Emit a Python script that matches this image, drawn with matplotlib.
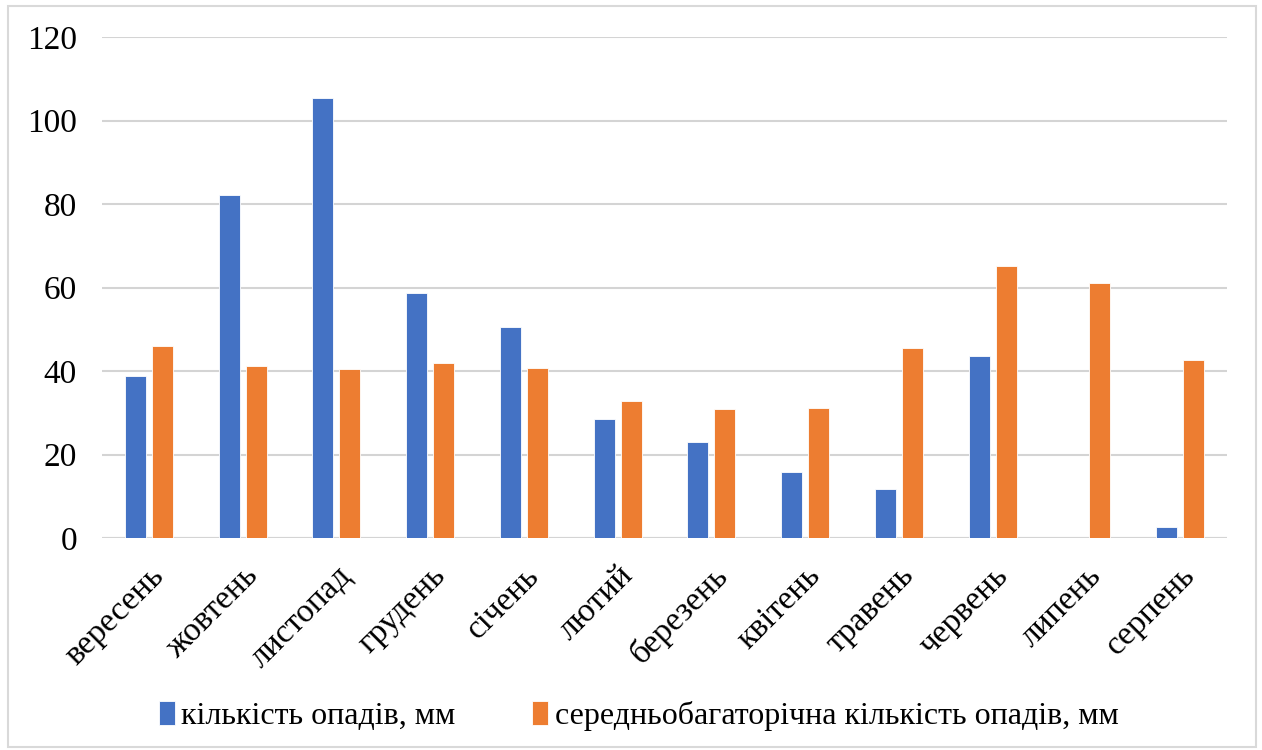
import matplotlib.pyplot as plt
import numpy as np

months = ["вересень", "жовтень", "листопад", "грудень", "січень", "лютий",
          "березень", "квітень", "травень", "червень", "липень", "серпень"]
precip = [38.8, 82.1, 105.5, 58.7, 50.5, 28.5, 22.9, 15.7, 11.8, 43.6, 0.0, 2.7]
norm = [45.9, 41.3, 40.4, 42.0, 40.6, 32.8, 30.8, 31.2, 45.5, 65.2, 61.1, 42.7]
labels = ["кількість опадів, мм", "середньобагаторічна кількість опадів, мм"]

plt.rcParams['font.family'] = ['Liberation Serif', 'DejaVu Serif']

fig = plt.figure(figsize=(12.62, 7.5), dpi=100)
ax = fig.add_axes([102 / 1262, 1 - 538 / 750, (1227 - 102) / 1262, (538 - 37) / 750])

x = np.arange(len(months))
w = 0.224
ax.bar(x - 0.144, precip, w, color='#4472C4', edgecolor='white', linewidth=0.6, label=labels[0])
ax.bar(x + 0.144, norm, w, color='#ED7D31', edgecolor='white', linewidth=0.6, label=labels[1])

ax.set_xlim(-0.5, len(months) - 0.5)
ax.set_ylim(0, 120)
ax.set_yticks(range(0, 121, 20))
ax.yaxis.grid(True, color='#D4D4D4', linewidth=1.5)
ax.set_axisbelow(True)
for s in ax.spines.values():
    s.set_visible(False)
ax.axhline(0, color='#D4D4D4', linewidth=1.5, zorder=0)
ax.tick_params(axis='y', length=0, pad=18, labelsize=24)
ax.tick_params(axis='x', length=0, pad=16, labelsize=24)
ax.set_xticks(x)
ax.set_xticklabels(months, rotation=45, ha='right', rotation_mode='anchor')

fig.legend(loc='center', bbox_to_anchor=(0.506, 1 - 716 / 750), ncol=2, frameon=False,
           fontsize=23, handlelength=0.5, handleheight=0.8, handletextpad=0.2,
           columnspacing=2.4)

# outer chart border
fig.patches.append(plt.Rectangle((8 / 1262, 3 / 750), 1248 / 1262, 741 / 750,
                                 transform=fig.transFigure, fill=False,
                                 edgecolor='#D9D9D9', linewidth=1.5))

fig.savefig("out.png", dpi=100)
